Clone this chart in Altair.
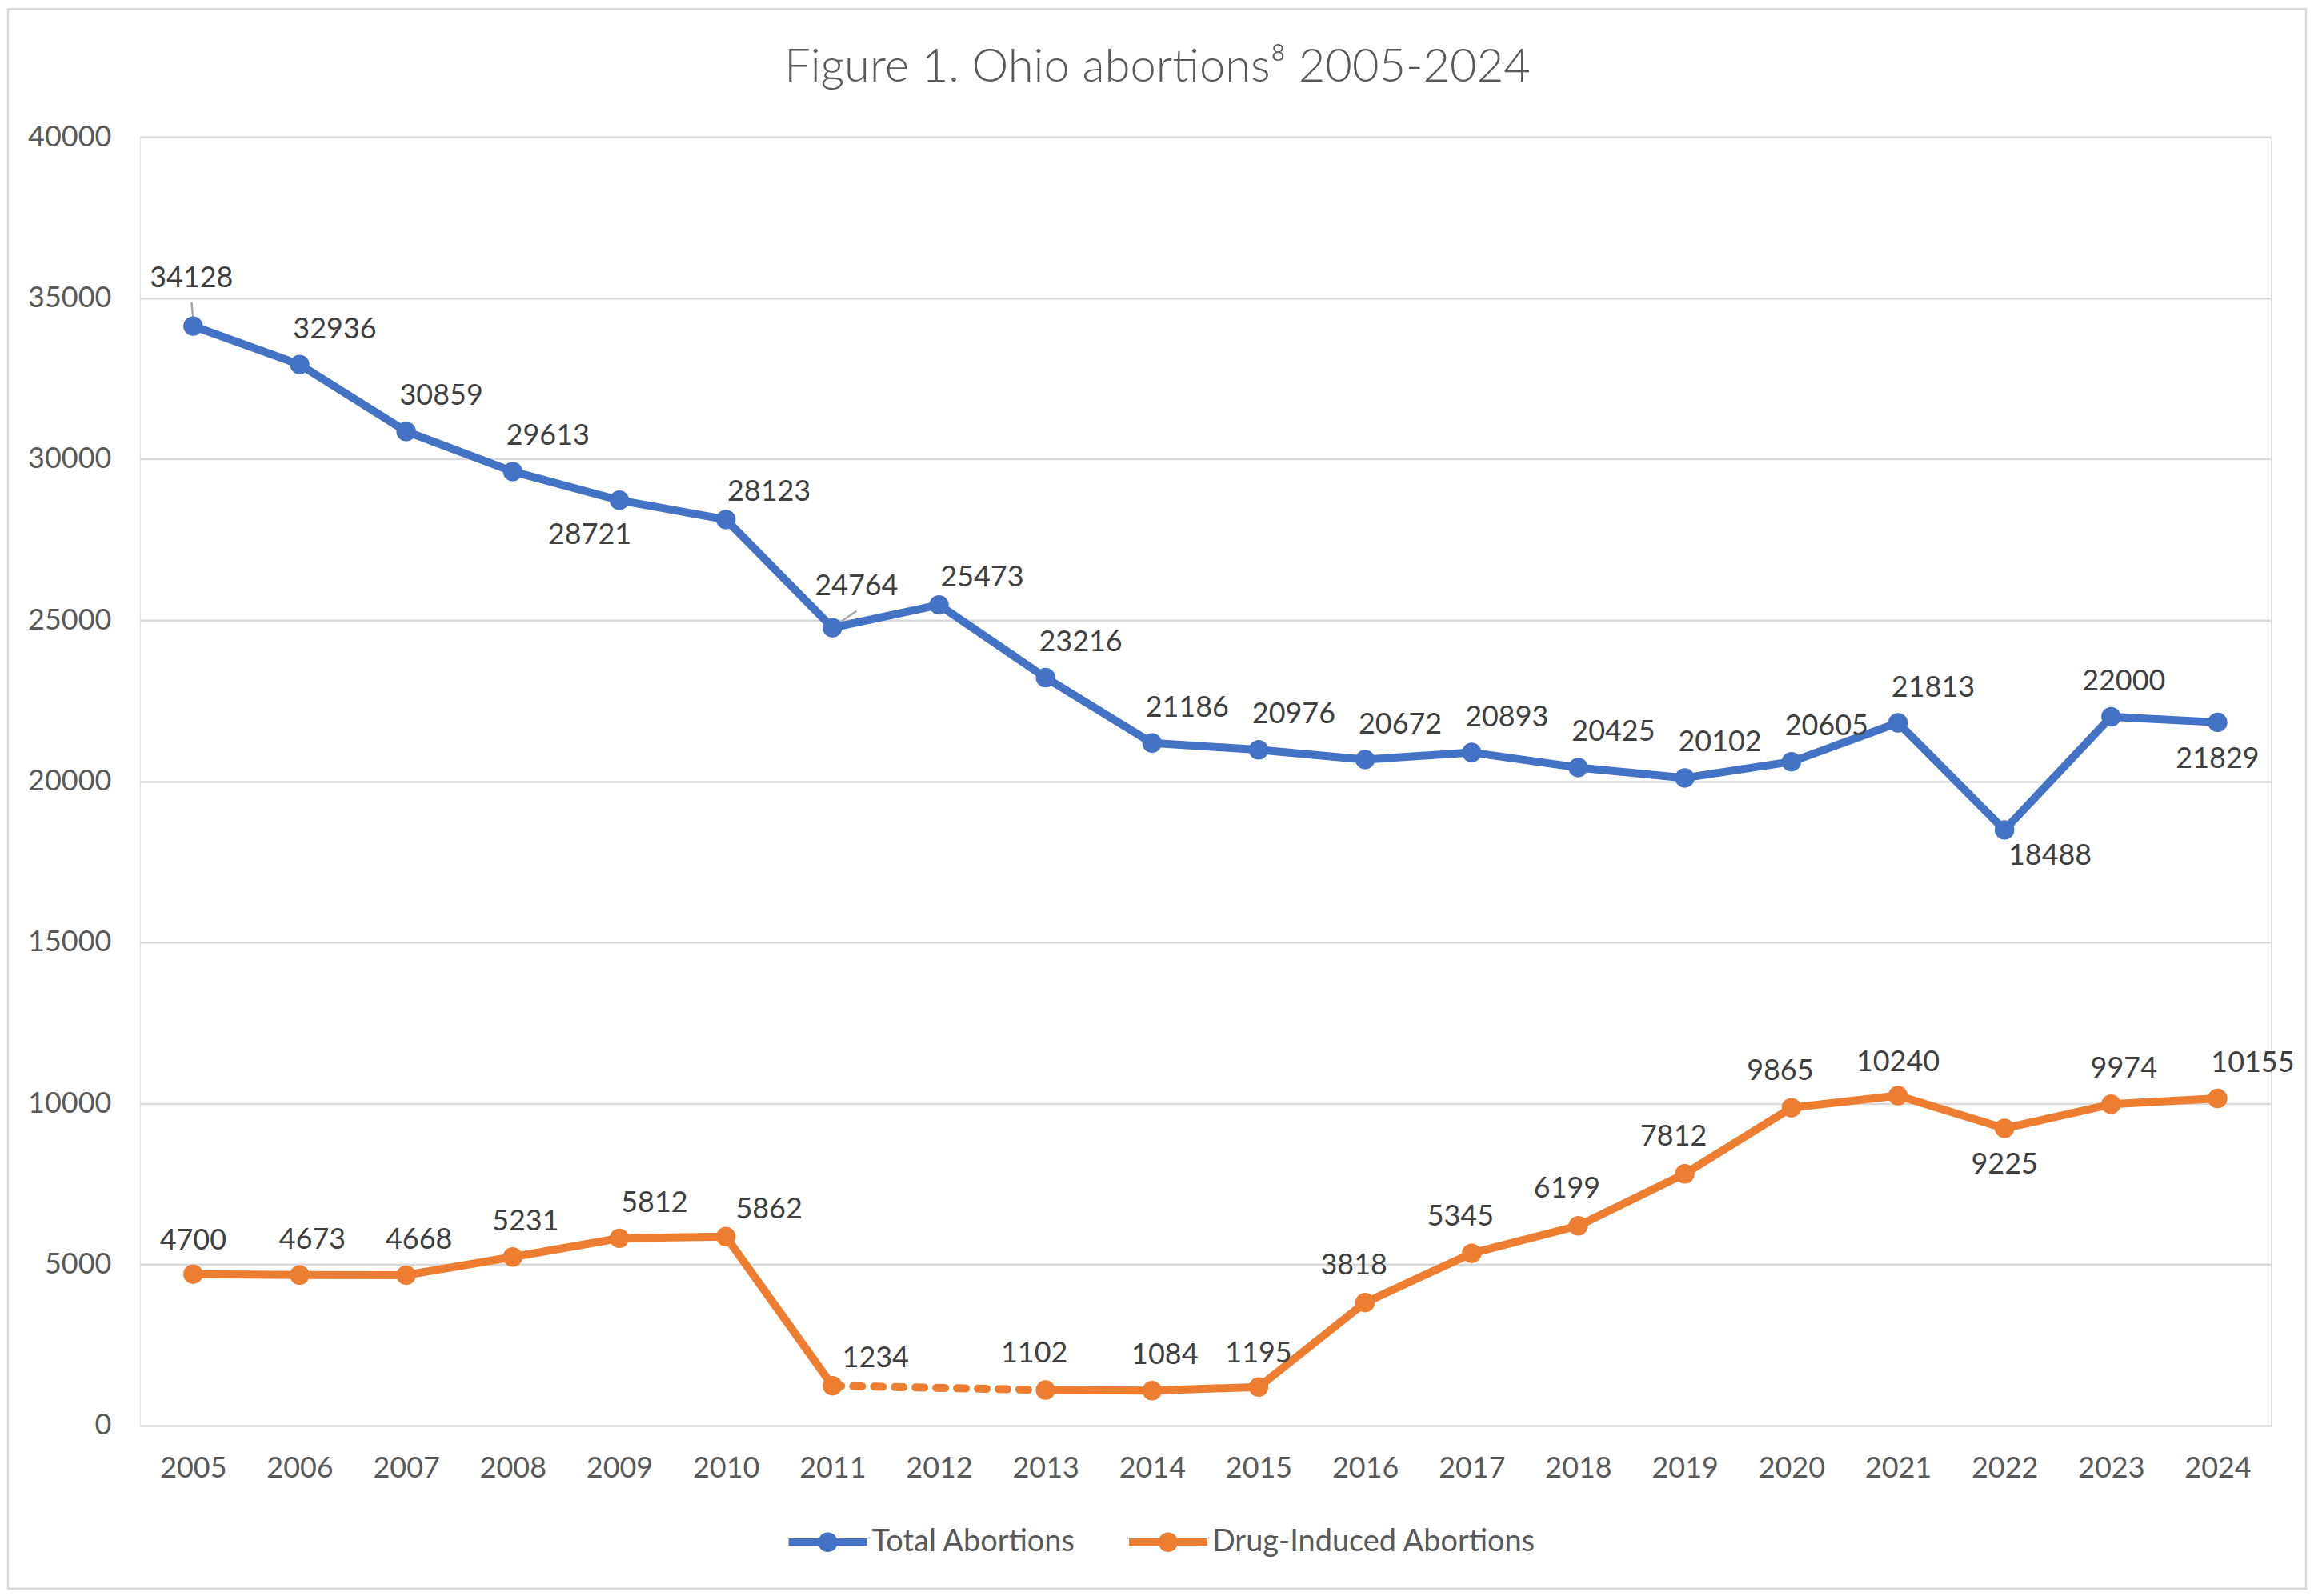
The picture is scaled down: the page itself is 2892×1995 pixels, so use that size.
import altair as alt
import pandas as pd

# ---------------- data ----------------
years = [str(y) for y in range(2005, 2025)]
total_abortions = [34128, 32936, 30859, 29613, 28721, 28123, 24764, 25473, 23216, 21186,
                   20976, 20672, 20893, 20425, 20102, 20605, 21813, 18488, 22000, 21829]
drug_induced = [4700, 4673, 4668, 5231, 5812, 5862, 1234, None, 1102, 1084,
                1195, 3818, 5345, 6199, 7812, 9865, 10240, 9225, 9974, 10155]
series_names = ["Total Abortions", "Drug-Induced Abortions"]
y_ticks = list(range(0, 40001, 5000))
title_text = "Figure 1. Ohio abortions\u2078 2005-2024"

# ---------------- style ----------------
FONT = "Lato"
BLUE, ORANGE = "#4472C4", "#ED7D31"
GRID = "#D9D9D9"
AXIS_TXT = "#595959"
LABEL_TXT = "#404040"
FS = 36

# label placements (style only): code -> (dx, dy)
offsets = {
    "N": (0, -42), "NNE": (16, -44), "NNW": (-14, -46), "NE": (44, -44),
    "ENE": (54, -34), "S": (0, 46), "SE": (57, 33), "SW": (-37, 44),
    "N2": (-2, -60), "NE2": (30, -52),
}
total_pos = ["N2", "NE", "NE", "NE", "SW", "ENE", "NE2", "ENE", "NE", "NE",
             "NE", "NE", "NE", "NE", "NE", "NE", "NE", "SE", "NNE", "S"]
drug_pos = ["N", "NNE", "NNE", "NNE", "NE", "ENE", "ENE", None, "NNW", "NNE",
            "N", "NNW", "NNW", "NNW", "NNW", "NNW", "N", "S", "NNE", "NE"]

rows = []
gap = [i for i, v in enumerate(drug_induced) if v is None]
for i, y in enumerate(years):
    rows.append(dict(year=y, value=total_abortions[i], series=series_names[0],
                     seg="t", pos=total_pos[i], label=str(total_abortions[i])))
    if drug_induced[i] is not None:
        seg = "a" if (gap and i < gap[0]) else "b"
        rows.append(dict(year=y, value=drug_induced[i], series=series_names[1],
                         seg=seg, pos=drug_pos[i], label=str(drug_induced[i])))
df = pd.DataFrame(rows)

dash_rows = []
for g in gap:
    for j in (g - 1, g + 1):
        dash_rows.append(dict(year=years[j], value=drug_induced[j], series=series_names[1]))
dash_df = pd.DataFrame(dash_rows)

x_enc = alt.X("year:O", scale=alt.Scale(type="point", padding=0.5, domain=years),
              axis=alt.Axis(title=None, labelAngle=0, ticks=False, domain=False, grid=False,
                            labelFontSize=FS, labelColor=AXIS_TXT, labelFont=FONT,
                            labelPadding=37))
y_enc = alt.Y("value:Q", scale=alt.Scale(domain=[0, 40000], nice=False),
              axis=alt.Axis(title=None, values=y_ticks, format="d", ticks=False, domain=False,
                            grid=True, gridColor=GRID, gridWidth=2.5,
                            labelFontSize=FS, labelColor=AXIS_TXT, labelFont=FONT,
                            labelPadding=36))
color_scale = alt.Scale(domain=series_names, range=[BLUE, ORANGE])

W, H = 2667, 1613

border = alt.Chart(alt.Data(values=[{}])).mark_rect(
    fill="white", fillOpacity=0, stroke=GRID, strokeWidth=2.5
).encode(x=alt.value(-165), x2=alt.value(2711), y=alt.value(-160), y2=alt.value(1817))

lines = alt.Chart(df).mark_line(strokeWidth=10, strokeCap="round", strokeJoin="round").encode(
    x=x_enc, y=y_enc,
    color=alt.Color("series:N", scale=color_scale, legend=None),
    detail="seg:N",
)

dashed = alt.Chart(dash_df).mark_line(strokeWidth=10, strokeDash=[11, 15], strokeCap="round").encode(
    x=x_enc, y=y_enc,
    color=alt.Color("series:N", scale=color_scale, legend=None),
)

sym_path = ("M-1,-0.095L1,-0.095L1,0.095L-1,0.095Z "
            "M0.25,0A0.25,0.25 0 1,1 -0.25,0A0.25,0.25 0 1,1 0.25,0Z")

points = alt.Chart(df).mark_circle(size=600, opacity=1).encode(
    x=x_enc, y=y_enc,
    color=alt.Color("series:N", scale=color_scale,
                    legend=alt.Legend(orient="none", legendX=812, legendY=1710,
                                      direction="horizontal", title=None,
                                      symbolType=sym_path, symbolSize=9604,
                                      symbolStrokeWidth=0, symbolOpacity=1,
                                      labelFontSize=38, labelFont=FONT, labelColor=AXIS_TXT,
                                      labelLimit=1000,
                                      labelOffset=6, columnPadding=66)),
)

leader1 = alt.Chart(df).mark_rule(color="#A6A6A6", strokeWidth=2.5,
                                  yOffset=-10, y2Offset=-30, xOffset=0, x2Offset=-2).encode(
    x=x_enc, x2=alt.X2("year:O"), y=y_enc, y2=alt.Y2("value:Q")
).transform_filter((alt.datum.year == years[0]) & (alt.datum.seg == "t"))

leader2 = alt.Chart(df).mark_rule(color="#A6A6A6", strokeWidth=2.5,
                                  xOffset=4, yOffset=-3, x2Offset=30, y2Offset=-21).encode(
    x=x_enc, x2=alt.X2("year:O"), y=y_enc, y2=alt.Y2("value:Q")
).transform_filter((alt.datum.year == years[6]) & (alt.datum.seg == "t"))

label_layers = []
for code, (dx, dy) in offsets.items():
    label_layers.append(
        alt.Chart(df).mark_text(dx=dx, dy=dy, fontSize=FS, font=FONT, color=LABEL_TXT,
                                baseline="middle", align="center").encode(
            x=x_enc, y=y_enc, text="label:N"
        ).transform_filter(alt.datum.pos == code)
    )

chart = alt.layer(border, leader1, leader2, lines, dashed, points, *label_layers).properties(
    width=W, height=H,
    padding=0,
    title=alt.TitleParams(text=title_text, fontSize=58, font=FONT, fontWeight=300,
                          color=AXIS_TXT, anchor="middle", frame="group", dx=-60, offset=-104),
).resolve_legend(color="independent").configure_view(stroke=None).configure(background="white")

chart.save("out.html", embed_options={"renderer": "svg", "actions": False})
